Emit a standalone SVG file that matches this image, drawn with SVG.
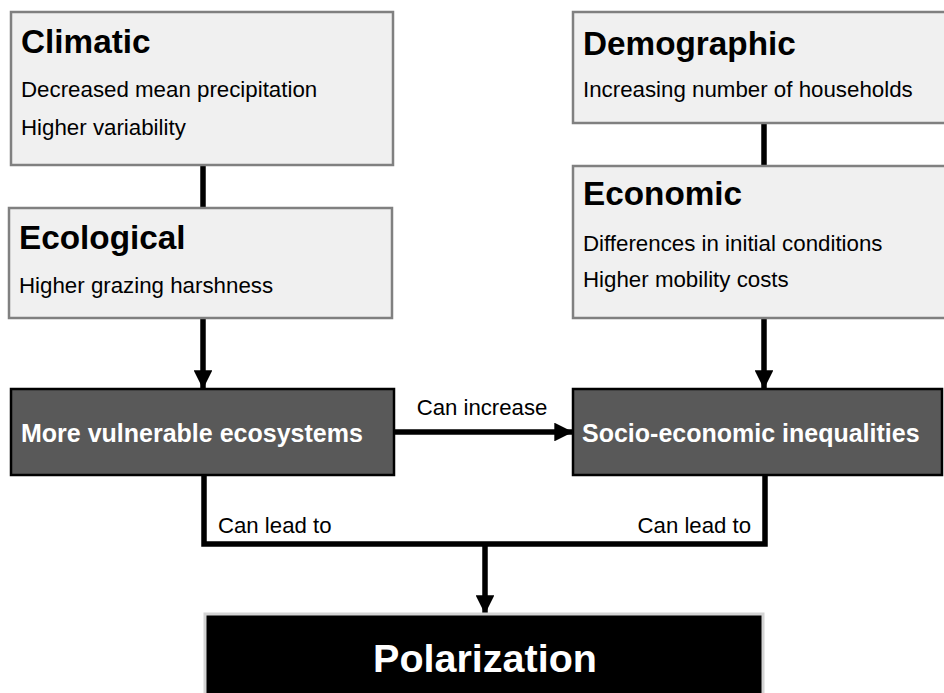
<svg xmlns="http://www.w3.org/2000/svg" width="944" height="693" viewBox="0 0 944 693">
  <defs>
    <style>
      .factor { fill: #f0f0f0; stroke: #808080; stroke-width: 2.5; }
      .effect { fill: #595959; stroke: #000000; stroke-width: 2.5; }
      .outcome { fill: #000000; stroke: #d4d4d4; stroke-width: 3; }
      .title { font-family: "Liberation Sans", Arial, sans-serif; font-weight: bold; font-size: 33.3px; fill: #000; }
      .item { font-family: "Liberation Sans", Arial, sans-serif; font-size: 22.3px; fill: #000; }
      .effect-label { font-family: "Liberation Sans", Arial, sans-serif; font-weight: bold; font-size: 25px; fill: #fff; }
      .outcome-label { font-family: "Liberation Sans", Arial, sans-serif; font-weight: bold; font-size: 39.5px; fill: #fff; }
      .edge-label { font-family: "Liberation Sans", Arial, sans-serif; font-size: 22.2px; fill: #000; }
      .link { fill: none; stroke: #000; stroke-width: 5.5; }
    </style>
    <marker id="arrow" viewBox="0 0 10 10" refX="10" refY="5" markerWidth="3.4" markerHeight="3.4" markerUnits="strokeWidth" orient="auto">
      <path d="M0,0 L10,5 L0,10 Z" fill="#000"/>
    </marker>
  </defs>

  <!-- connectors -->
  <g id="connectors">
    <line class="link" x1="203" y1="165" x2="203" y2="208"/>
    <line class="link" x1="764" y1="123" x2="764" y2="166"/>
    <line class="link" x1="203" y1="318" x2="203" y2="389" marker-end="url(#arrow)"/>
    <line class="link" x1="764" y1="318" x2="764" y2="389" marker-end="url(#arrow)"/>
    <line class="link" x1="394" y1="432" x2="573" y2="432" marker-end="url(#arrow)"/>
    <polyline class="link" points="204,475 204,544 765,544 765,475"/>
    <line class="link" x1="485" y1="544" x2="485" y2="614" marker-end="url(#arrow)"/>
    <text class="edge-label" x="482" y="415" text-anchor="middle">Can increase</text>
    <text class="edge-label" x="218" y="533">Can lead to</text>
    <text class="edge-label" x="751" y="533" text-anchor="end">Can lead to</text>
  </g>

  <g id="climatic">
    <rect class="factor" x="11" y="12" width="382" height="153"/>
    <text class="title" x="21" y="53">Climatic</text>
    <text class="item" x="21" y="97">Decreased mean precipitation</text>
    <text class="item" x="21" y="135">Higher variability</text>
  </g>

  <g id="ecological">
    <rect class="factor" x="9" y="208" width="383" height="110"/>
    <text class="title" x="19" y="249">Ecological</text>
    <text class="item" x="19" y="293">Higher grazing harshness</text>
  </g>

  <g id="demographic">
    <rect class="factor" x="573" y="12" width="380" height="111"/>
    <text class="title" x="583" y="55">Demographic</text>
    <text class="item" x="583" y="97">Increasing number of households</text>
  </g>

  <g id="economic">
    <rect class="factor" x="573" y="166" width="380" height="152"/>
    <text class="title" x="583" y="205">Economic</text>
    <text class="item" x="583" y="251">Differences in initial conditions</text>
    <text class="item" x="583" y="287">Higher mobility costs</text>
  </g>

  <g id="vulnerable-ecosystems">
    <rect class="effect" x="11" y="389" width="383" height="86"/>
    <text class="effect-label" x="21" y="442">More vulnerable ecosystems</text>
  </g>

  <g id="inequalities">
    <rect class="effect" x="573" y="389" width="369" height="86"/>
    <text class="effect-label" x="582" y="442">Socio-economic inequalities</text>
  </g>

  <g id="polarization">
    <rect class="outcome" x="205" y="614" width="558" height="95"/>
    <text class="outcome-label" x="485" y="672" text-anchor="middle">Polarization</text>
  </g>
</svg>
